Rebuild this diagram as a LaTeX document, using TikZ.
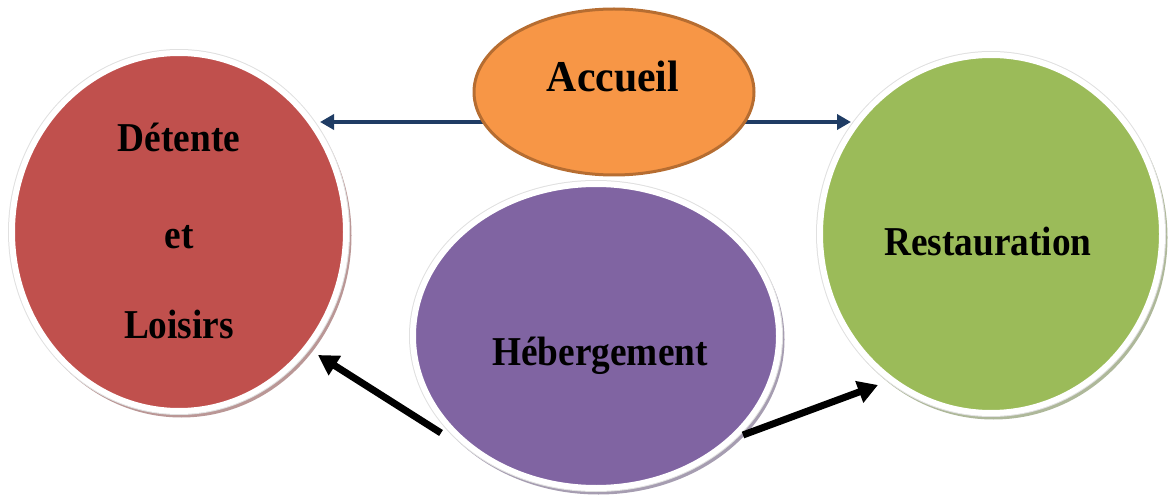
\documentclass[tikz,border=0pt]{standalone}
\usepackage{fontspec}
\setmainfont{Liberation Serif}
\newfontfamily\condfam[FakeStretch=0.91]{Liberation Serif}
\newfontfamily\accfam[FakeStretch=0.95]{Liberation Serif}
\usetikzlibrary{shapes.geometric,arrows.meta}
\pgfdeclarelayer{bg}
\pgfsetlayers{bg,main}
\definecolor{cRed}{HTML}{C0504D}
\definecolor{cGreen}{HTML}{9BBB59}
\definecolor{cPurple}{HTML}{8064A2}
\definecolor{cOrange}{HTML}{F79646}
\definecolor{cOrangeLine}{HTML}{B66D31}
\definecolor{cBlue}{HTML}{1F3C64}
\tikzset{
  bubble/.style={ellipse, inner sep=0pt, fill=#1, draw=white, line width=6pt,
    preaction={draw=#1!45!gray!70, fill=#1!45!gray!70, line width=6pt,
      transform canvas={shift={(2.5pt,-3.5pt)}}},
    preaction={draw=black!12, line width=8pt}},
  lbl/.style={font=\condfam\bfseries\fontsize{41}{41}\selectfont, anchor=base, inner sep=0pt},
  bluearrow/.style={draw=cBlue, line width=4.5pt, -{Triangle[length=14pt,width=15pt]}},
  blackarrow/.style={draw=black, line width=7pt, -{Triangle[length=20pt,width=22pt]}}
}
\begin{document}
\begin{tikzpicture}[x=1pt,y=-1pt]
\useasboundingbox (0,0) rectangle (1170,497);
% nodes
\node[bubble=cRed, minimum width=334pt, minimum height=358pt] (det) at (179,232) {};
\node[bubble=cGreen, minimum width=342pt, minimum height=358pt] (res) at (991,234) {};
\node[bubble=cPurple, minimum width=366pt, minimum height=304pt] (heb) at (596,336) {};
\node[ellipse, inner sep=0pt, fill=cOrange, draw=cOrangeLine, line width=3pt,
      minimum width=280pt, minimum height=166pt] (acc) at (614,92) {};
% labels
\node[lbl] (l1) at (179,152) {Détente};
\node[lbl] (l2) at (179,248) {et};
\node[lbl] (l3) at (179,338) {Loisirs};
\node[lbl] (l4) at (988,255) {Restauration};
\node[lbl] (l5) at (600,365) {Hébergement};
\node[anchor=base, inner sep=0pt, font=\accfam\bfseries\fontsize{44}{44}\selectfont] (l6) at (613,92) {Accueil};
% connector end points
\coordinate (tipL) at (320,122);
\coordinate (tipR) at (851,122);
\coordinate (tailBL) at (441,433);
\coordinate (tipBL) at (318,355);
\coordinate (tailBR) at (743,435);
\coordinate (tipBR) at (878,385);
\begin{pgfonlayer}{bg}
\draw[bluearrow] (acc.center |- tipL) -- (tipL);
\draw[bluearrow] (acc.center |- tipR) -- (tipR);
\end{pgfonlayer}
\draw[blackarrow] (tailBL) -- (tipBL);
\draw[blackarrow] (tailBR) -- (tipBR);
\end{tikzpicture}
\end{document}
